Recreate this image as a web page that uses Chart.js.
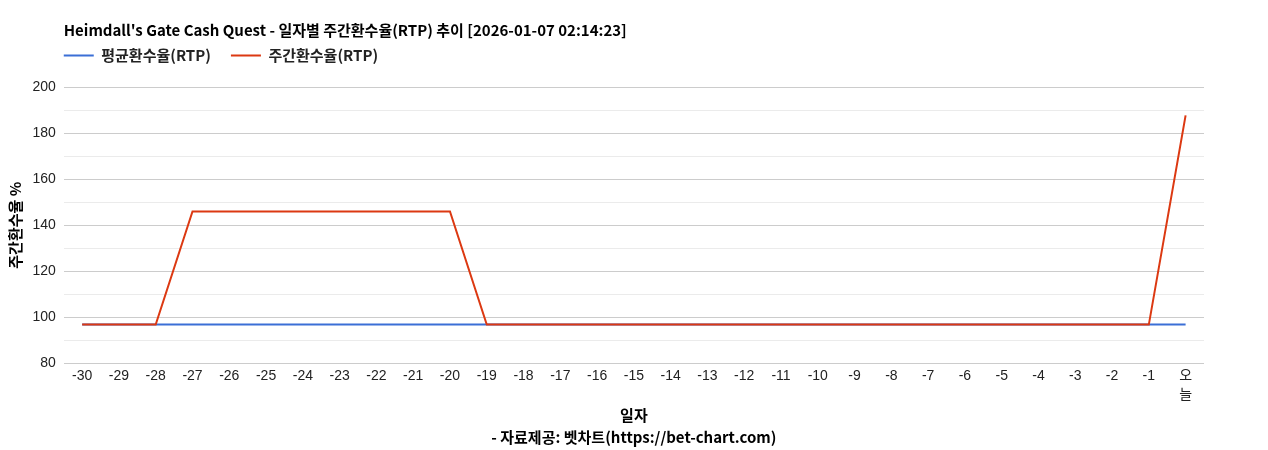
<!DOCTYPE html>
<html>
<head>
<meta charset="utf-8">
<script src="https://cdn.jsdelivr.net/npm/chart.js@4"></script>
<style>
  html, body { margin: 0; padding: 0; background: #fff; }
  #wrap { width: 1268px; height: 450px; }
</style>
</head>
<body>
<div id="wrap"><canvas id="rtpChart"></canvas></div>
<script>
// 일자별 주간환수율 데이터
const days = [
  "-30", "-29", "-28", "-27", "-26", "-25", "-24", "-23", "-22", "-21",
  "-20", "-19", "-18", "-17", "-16", "-15", "-14", "-13", "-12", "-11",
  "-10", "-9", "-8", "-7", "-6", "-5", "-4", "-3", "-2", "-1", ["오", "늘"],
];
const avgRtp = [
  96.9, 96.9, 96.9, 96.9, 96.9, 96.9, 96.9, 96.9, 96.9, 96.9,
  96.9, 96.9, 96.9, 96.9, 96.9, 96.9, 96.9, 96.9, 96.9, 96.9,
  96.9, 96.9, 96.9, 96.9, 96.9, 96.9, 96.9, 96.9, 96.9, 96.9, 96.9,
];
const weeklyRtp = [
  96.9, 96.9, 96.9, 146, 146, 146, 146, 146, 146, 146,
  146, 96.9, 96.9, 96.9, 96.9, 96.9, 96.9, 96.9, 96.9, 96.9,
  96.9, 96.9, 96.9, 96.9, 96.9, 96.9, 96.9, 96.9, 96.9, 96.9, 187.7,
];
const yMin = 80;
const yMax = 200;

const boldFont = "'Noto Sans CJK KR', 'Noto Sans', sans-serif";
const tickFont = "'Liberation Sans', Arial, 'Noto Sans CJK KR', sans-serif";

// title / legend start at chart area left edge, legend pulled up a bit
const alignToArea = {
  id: "alignToArea",
  afterLayout(chart) {
    const left = chart.chartArea.left;
    if (chart.titleBlock) {
      const w = chart.titleBlock.width;
      chart.titleBlock.left = left;
      chart.titleBlock.right = left + w;
    }
    if (chart.legend) {
      const pad = chart.legend.options.labels.padding;
      chart.legend.left = left - pad;
      chart.legend.top -= 14;
      chart.legend.bottom -= 14;
    }
  },
};

const ctx = document.getElementById("rtpChart").getContext("2d");
new Chart(ctx, {
  type: "line",
  data: {
    labels: days,
    datasets: [
      {
        label: "평균환수율(RTP)",
        data: avgRtp,
        borderColor: "#3b6fd6",
        backgroundColor: "#3b6fd6",
        borderWidth: 2,
        pointRadius: 0,
        tension: 0,
        order: 1,
      },
      {
        label: "주간환수율(RTP)",
        data: weeklyRtp,
        borderColor: "#dc3912",
        backgroundColor: "#dc3912",
        borderWidth: 2,
        pointRadius: 0,
        tension: 0,
        order: 0,
      },
    ],
  },
  options: {
    responsive: true,
    maintainAspectRatio: false,
    animation: false,
    layout: {
      padding: { left: 6, right: 64, top: 16, bottom: 0 },
    },
    plugins: {
      title: {
        display: true,
        align: "start",
        text: "Heimdall's Gate Cash Quest - 일자별 주간환수율(RTP) 추이 [2026-01-07 02:14:23]",
        color: "#000",
        font: { family: boldFont, size: 15, weight: "bold", lineHeight: 1.12 },
        padding: { top: 6, bottom: 3.2 },
      },
      legend: {
        align: "start",
        labels: {
          boxWidth: 30,
          boxHeight: 0,
          padding: 20,
          color: "#222",
          font: { family: boldFont, size: 15, weight: "bold" },
          sort: (a, b) => a.datasetIndex - b.datasetIndex,
        },
      },
      tooltip: { enabled: false },
    },
    scales: {
      x: {
        offset: true,
        grid: { display: false, drawTicks: false },
        border: { display: false },
        ticks: {
          color: "#222",
          maxRotation: 0,
          minRotation: 0,
          autoSkip: false,
          padding: 3.5,
          font: { family: tickFont, size: 14, lineHeight: 1.35 },
        },
        title: {
          display: true,
          text: ["일자", "- 자료제공: 벳차트(https://bet-chart.com)"],
          color: "#000",
          font: { family: boldFont, size: 15, weight: "bold", lineHeight: 22 / 15 },
          padding: { top: -4, bottom: 1.7 },
        },
      },
      y: {
        min: yMin,
        max: yMax,
        border: { display: false },
        grid: {
          drawTicks: false,
          color: (c) => (c.tick && c.tick.value % 20 === 0 ? "#cccccc" : "#ebebeb"),
        },
        ticks: {
          stepSize: 10,
          color: "#222",
          padding: 8,
          font: { family: tickFont, size: 14 },
          callback: (v) => (v % 20 === 0 ? v : ""),
        },
        title: {
          display: true,
          text: "주간환수율 %",
          color: "#000",
          font: { family: boldFont, size: 15, weight: "bold", lineHeight: 1.12 },
          padding: { top: 0.6, bottom: 1 },
        },
      },
    },
  },
  plugins: [alignToArea],
});
</script>
</body>
</html>
